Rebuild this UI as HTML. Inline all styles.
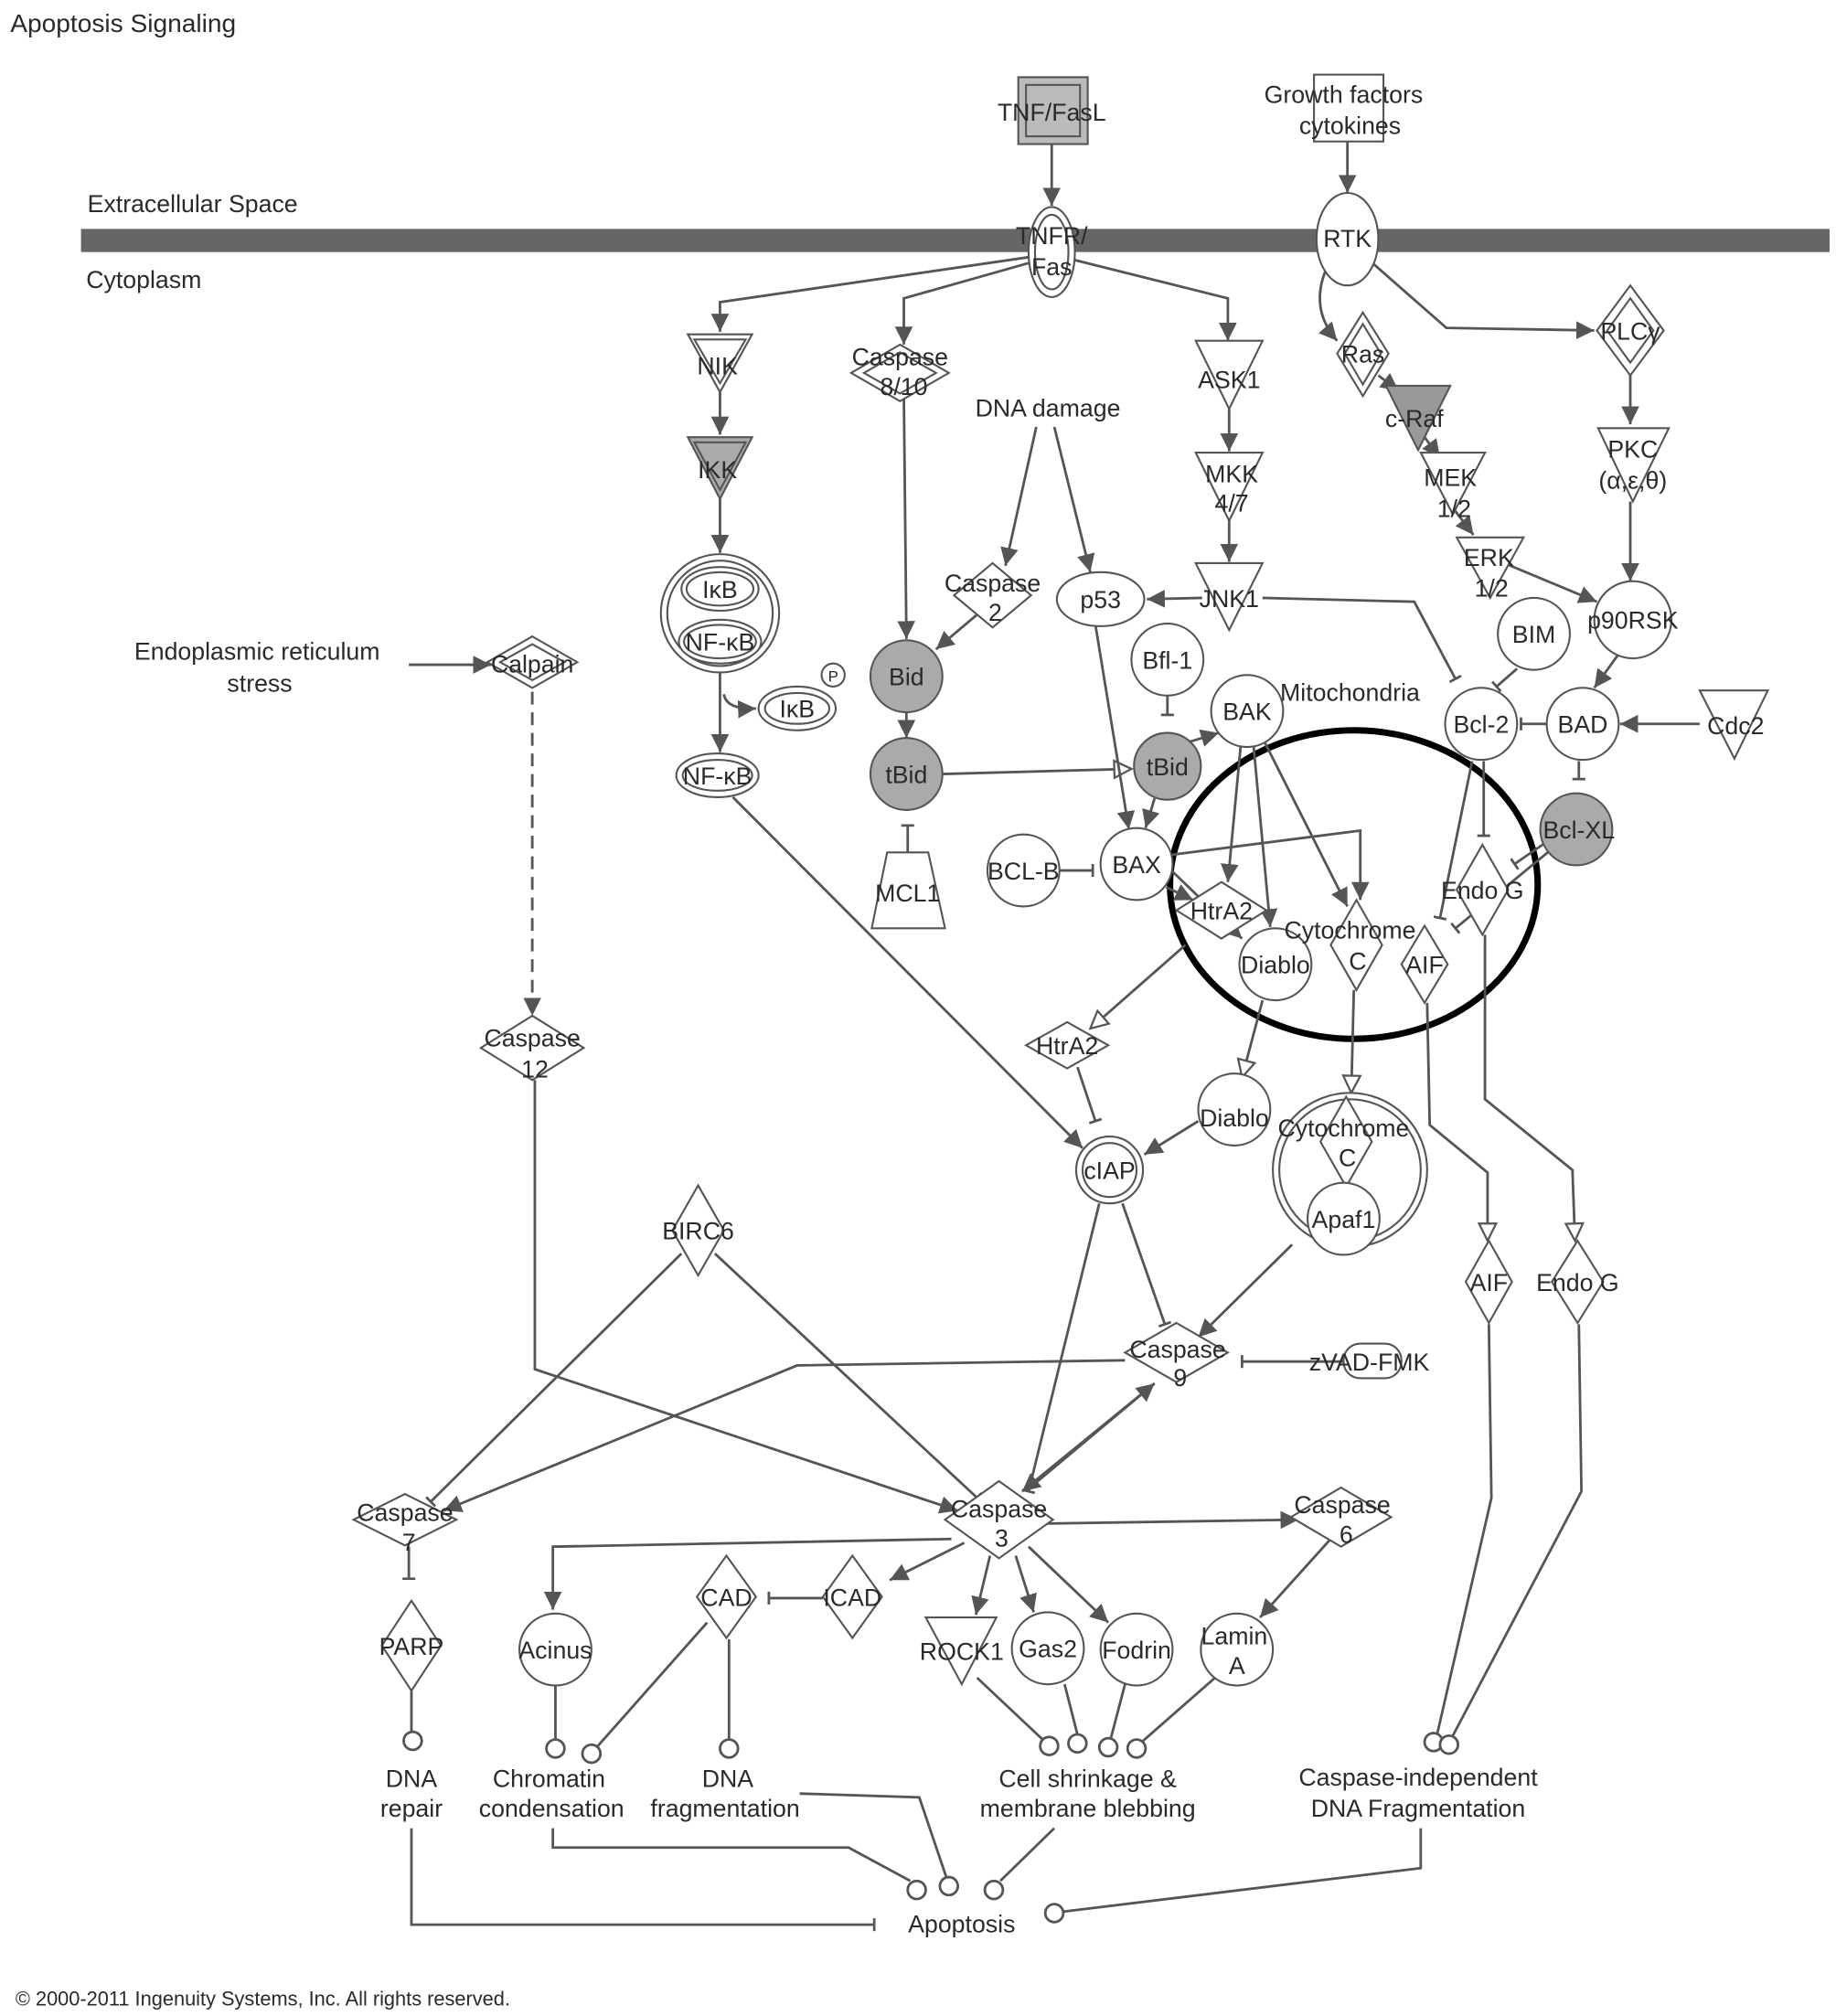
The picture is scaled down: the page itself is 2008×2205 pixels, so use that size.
<!DOCTYPE html>
<html><head><meta charset="utf-8"><style>
html,body{margin:0;padding:0;background:#fff;}
svg{display:block;}
text{font-family:"Liberation Sans",Arial,sans-serif;fill:#2a2a2a;}
</style></head><body>
<svg width="2008" height="2205" viewBox="0 0 1428 1568" xmlns="http://www.w3.org/2000/svg">
<defs>
<marker id="a" viewBox="0 0 10 10" refX="10" refY="5" markerWidth="14" markerHeight="14" markerUnits="userSpaceOnUse" orient="auto"><path d="M0,0 L10,5 L0,10 z" fill="#555"/></marker>
<marker id="o" viewBox="0 0 12 12" refX="11" refY="6" markerWidth="16" markerHeight="16" markerUnits="userSpaceOnUse" orient="auto"><path d="M1,1 L11,6 L1,11 z" fill="#fff" stroke="#555" stroke-width="1.2"/></marker>
<marker id="t" viewBox="0 0 4 10" refX="3" refY="5" markerWidth="4" markerHeight="16" markerUnits="userSpaceOnUse" orient="auto"><path d="M3,0 L3,10" stroke="#555" stroke-width="2"/></marker>
</defs>
<rect width="1428" height="1568" fill="#fff"/>
<text x="8" y="25" font-size="20">Apoptosis Signaling</text>
<rect x="63" y="178" width="1360" height="18" fill="#666"/>
<text x="68" y="165" font-size="19">Extracellular Space</text>
<text x="67" y="224" font-size="19">Cytoplasm</text>
<text x="12" y="1560" font-size="15.5">© 2000-2011 Ingenuity Systems, Inc. All rights reserved.</text>

<ellipse cx="1053" cy="688" rx="143" ry="120" fill="none" stroke="#000" stroke-width="5"/>
<text x="1050" y="545" font-size="19" text-anchor="middle">Mitochondria</text>

<g fill="none" stroke="#555" stroke-width="2">
<path d="M818,112 L818,160" marker-end="url(#a)"/>
<path d="M1048,110 L1048,150" marker-end="url(#a)"/>
<path d="M800,200 L560,235 L560,258" marker-end="url(#a)"/>
<path d="M802,204 L703,232 L703,268" marker-end="url(#a)"/>
<path d="M835,202 L955,232 L955,265" marker-end="url(#a)"/>
<path d="M956,318 L956,351" marker-end="url(#a)"/>
<path d="M956,405 L956,437" marker-end="url(#a)"/>
<path d="M560,305 L560,338" marker-end="url(#a)"/>
<path d="M560,388 L560,430" marker-end="url(#a)"/>
<path d="M560,523 L560,585" marker-end="url(#a)"/>
<path d="M563,540 Q565,552 588,551" marker-end="url(#a)"/>
<path d="M570,620 L842,893" marker-end="url(#a)"/>
<path d="M703,308 L705,497" marker-end="url(#a)"/>
<path d="M806,332 L782,440" marker-end="url(#a)"/>
<path d="M820,332 L848,445" marker-end="url(#a)"/>
<path d="M760,478 L728,505" marker-end="url(#a)"/>
<path d="M705,554 L705,574" marker-end="url(#a)"/>
<path d="M733,602 L880,598" marker-end="url(#o)"/>
<path d="M852,486 L878,645" marker-end="url(#a)"/>
<path d="M935,465 L892,466" marker-end="url(#a)"/>
<path d="M1032,208 Q1018,240 1040,265" marker-end="url(#a)"/>
<path d="M1068,205 L1125,255 L1240,257" marker-end="url(#a)"/>
<path d="M1072,292 L1088,304" marker-end="url(#a)"/>
<path d="M1108,340 L1120,356" marker-end="url(#a)"/>
<path d="M1130,395 L1146,416" marker-end="url(#a)"/>
<path d="M1170,438 L1242,468" marker-end="url(#a)"/>
<path d="M1268,292 L1268,330" marker-end="url(#a)"/>
<path d="M1268,390 L1268,452" marker-end="url(#a)"/>
<path d="M1258,510 L1240,535" marker-end="url(#a)"/>
<path d="M1322,563 L1260,563" marker-end="url(#a)"/>
<path d="M1228,592 L1228,606" marker-end="url(#t)"/>
<path d="M1180,520 L1164,534" marker-end="url(#t)"/>
<path d="M982,465 L1100,468 L1132,528" marker-end="url(#t)"/>
<path d="M1203,563 L1183,563" marker-end="url(#t)"/>
<path d="M908,541 L908,556" marker-end="url(#t)"/>
<path d="M925,577 L948,570" marker-end="url(#a)"/>
<path d="M898,621 L891,644" marker-end="url(#a)"/>
<path d="M824,677 L850,677" marker-end="url(#t)"/>
<path d="M706,663 L706,642" marker-end="url(#t)"/>
<path d="M965,580 L955,686" marker-end="url(#a)"/>
<path d="M975,580 L988,721" marker-end="url(#a)"/>
<path d="M984,578 L1048,705" marker-end="url(#a)"/>
<path d="M907,690 L928,700" marker-end="url(#a)"/>
<path d="M910,676 L966,730" marker-end="url(#a)"/>
<path d="M910,665 L1058,646 L1058,700" marker-end="url(#a)"/>
<path d="M1145,592 L1120,714" marker-end="url(#t)"/>
<path d="M1154,592 L1154,650" marker-end="url(#t)"/>
<path d="M1205,662 L1132,722" marker-end="url(#t)"/>
<path d="M1207,652 L1178,672" marker-end="url(#t)"/>
<path d="M922,735 L848,800" marker-end="url(#o)"/>
<path d="M982,778 L966,838" marker-end="url(#o)"/>
<path d="M1053,770 L1051,850" marker-end="url(#o)"/>
<path d="M1110,780 L1112,875 L1157,912 L1157,965" marker-end="url(#o)"/>
<path d="M1155,727 L1155,855 L1223,910 L1225,965" marker-end="url(#o)"/>
<path d="M838,830 L852,872" marker-end="url(#t)"/>
<path d="M932,872 L890,898" marker-end="url(#a)"/>
<path d="M855,936 L800,1160" marker-end="url(#t)"/>
<path d="M873,936 L906,1030" marker-end="url(#t)"/>
<path d="M1005,968 L932,1040" marker-end="url(#a)"/>
<path d="M1045,1059 L966,1059" marker-end="url(#t)"/>
<path d="M800,1158 L898,1076" marker-end="url(#a)"/>
<path d="M898,1076 L795,1160" marker-end="url(#a)"/>
<path d="M875,1058 L620,1062 L345,1175" marker-end="url(#a)"/>
<path d="M416,840 L416,1065 L745,1175" marker-end="url(#a)"/>
<path d="M414,538 L414,790" stroke-dasharray="10,6" marker-end="url(#a)"/>
<path d="M318,517 L382,517" marker-end="url(#a)"/>
<path d="M530,975 L335,1168" marker-end="url(#t)"/>
<path d="M556,975 L760,1165" marker-end="url(#t)"/>
<path d="M815,1185 L1010,1182" marker-end="url(#a)"/>
<path d="M1035,1197 L980,1258" marker-end="url(#a)"/>
<path d="M740,1197 L430,1203 L430,1252" marker-end="url(#a)"/>
<path d="M750,1200 L692,1229" marker-end="url(#a)"/>
<path d="M640,1243 L598,1243" marker-end="url(#t)"/>
<path d="M770,1210 L759,1256" marker-end="url(#a)"/>
<path d="M790,1210 L804,1254" marker-end="url(#a)"/>
<path d="M800,1203 L862,1262" marker-end="url(#a)"/>
<path d="M318,1203 L318,1228" marker-end="url(#t)"/>
<path d="M320,1315 L320,1347"/>
<path d="M432,1311 L432,1353"/>
<path d="M550,1262 L465,1358"/>
<path d="M567,1275 L567,1353"/>
<path d="M760,1305 L811,1353"/>
<path d="M828,1310 L838,1349"/>
<path d="M875,1310 L864,1352"/>
<path d="M945,1305 L889,1354"/>
<path d="M1158,1030 L1160,1165 L1118,1348"/>
<path d="M1228,1030 L1230,1160 L1130,1350"/>
<path d="M320,1422 L320,1497 L680,1497" marker-end="url(#t)"/>
<path d="M430,1422 L430,1437 L660,1437 L708,1463"/>
<path d="M622,1395 L715,1398 L736,1460"/>
<path d="M820,1422 L778,1463"/>
<path d="M1105,1422 L1105,1453 L826,1487"/>
</g>

<g fill="#fff" stroke="#555" stroke-width="2">
<circle cx="321" cy="1354" r="7"/><circle cx="432" cy="1360" r="7"/><circle cx="460" cy="1364" r="7"/>
<circle cx="567" cy="1360" r="7"/><circle cx="816" cy="1358" r="7"/><circle cx="838" cy="1356" r="7"/>
<circle cx="862" cy="1359" r="7"/><circle cx="884" cy="1360" r="7"/><circle cx="1115" cy="1355" r="7"/>
<circle cx="1127" cy="1357" r="7"/><circle cx="713" cy="1470" r="7"/><circle cx="738" cy="1467" r="7"/>
<circle cx="773" cy="1470" r="7"/><circle cx="820" cy="1488" r="7"/>
</g>

<g stroke="#555" stroke-width="1.5" fill="#fff">
<rect x="792" y="60" width="54" height="52" fill="#bbb"/><rect x="798" y="66" width="42" height="40" fill="#bbb"/>
<rect x="1022" y="58" width="54" height="52"/>
<ellipse cx="818" cy="196" rx="18" ry="35"/><ellipse cx="818" cy="196" rx="13" ry="29"/>
<ellipse cx="1048" cy="186" rx="24" ry="36"/>
<polygon points="535,260 585,260 560,305"/><polygon points="540,264 580,264 560,298"/>
<polygon points="535,340 585,340 560,388" fill="#aaa"/><polygon points="540,344 580,344 560,381" fill="#aaa"/>
<circle cx="560" cy="477" r="46"/><circle cx="560" cy="477" r="41"/>
<ellipse cx="560" cy="458" rx="30" ry="17"/><ellipse cx="560" cy="458" rx="26" ry="13"/>
<ellipse cx="560" cy="499" rx="32" ry="17"/><ellipse cx="560" cy="499" rx="28" ry="13"/>
<ellipse cx="620" cy="551" rx="30" ry="17"/><ellipse cx="620" cy="551" rx="25" ry="12"/>
<circle cx="648" cy="525" r="9"/>
<ellipse cx="558" cy="603" rx="32" ry="17"/><ellipse cx="558" cy="603" rx="27" ry="12"/>
<polygon points="700,268 738,290 700,312 662,290"/><polygon points="700,274 728,290 700,306 672,290"/>
<polygon points="772,438 802,463 772,488 742,463"/>
<ellipse cx="856" cy="466" rx="34" ry="21"/>
<polygon points="930,265 982,265 956,318"/>
<polygon points="930,352 982,352 956,405"/>
<polygon points="930,438 982,438 956,490"/>
<polygon points="1060,243 1080,275 1060,308 1040,275"/><polygon points="1060,252 1074,275 1060,299 1046,275"/>
<polygon points="1078,300 1128,300 1103,350" fill="#999"/>
<polygon points="1105,352 1155,352 1130,400"/>
<polygon points="1133,418 1185,418 1159,465"/>
<polygon points="1268,222 1294,257 1268,292 1242,257"/><polygon points="1268,232 1286,257 1268,282 1250,257"/>
<polygon points="1243,333 1298,333 1270,390"/>
<circle cx="1270" cy="482" r="30"/>
<circle cx="1193" cy="493" r="28"/>
<circle cx="1152" cy="563" r="28"/>
<circle cx="1231" cy="563" r="28"/>
<polygon points="1322,537 1375,537 1349,590"/>
<circle cx="1226" cy="645" r="28" fill="#aaa"/>
<circle cx="705" cy="526" r="28" fill="#aaa"/>
<circle cx="705" cy="602" r="28" fill="#aaa"/>
<circle cx="908" cy="513" r="28"/>
<circle cx="970" cy="553" r="28"/>
<circle cx="908" cy="596" r="26" fill="#aaa"/>
<circle cx="884" cy="672" r="28"/>
<circle cx="796" cy="677" r="28"/>
<polygon points="690,663 722,663 735,722 678,722"/>
<polygon points="950,686 985,708 950,730 915,708"/>
<circle cx="992" cy="750" r="28"/>
<polygon points="1055,700 1075,735 1055,770 1035,735"/>
<polygon points="1108,720 1126,750 1108,780 1090,750"/>
<polygon points="1153,657 1173,692 1153,727 1133,692"/>
<polygon points="830,795 862,813 830,831 798,813"/>
<circle cx="960" cy="863" r="28"/>
<circle cx="1050" cy="910" r="60"/><circle cx="1050" cy="910" r="55"/>
<polygon points="1047,853 1067,888 1047,923 1027,888"/>
<circle cx="1045" cy="948" r="28"/>
<circle cx="863" cy="910" r="26"/><circle cx="863" cy="910" r="21"/>
<polygon points="414,495 449,515 414,535 379,515"/><polygon points="414,501 439,515 414,529 389,515"/>
<polygon points="414,790 454,815 414,840 374,815"/>
<polygon points="543,922 563,957 543,992 523,957"/>
<polygon points="915,1029 955,1052 915,1075 875,1052"/>
<rect x="1045" y="1045" width="45" height="27" rx="13"/>
<polygon points="777,1152 819,1182 777,1212 735,1182"/>
<polygon points="315,1162 355,1182 315,1202 275,1182"/>
<polygon points="1043,1157 1082,1180 1043,1203 1004,1180"/>
<polygon points="320,1245 343,1280 320,1315 297,1280"/>
<circle cx="432" cy="1283" r="28"/>
<polygon points="565,1210 588,1242 565,1274 542,1242"/>
<polygon points="663,1210 686,1242 663,1274 640,1242"/>
<polygon points="720,1258 775,1258 748,1310"/>
<circle cx="815" cy="1282" r="28"/>
<circle cx="884" cy="1283" r="28"/>
<circle cx="962" cy="1283" r="28"/>
<polygon points="1158,965 1176,997 1158,1029 1140,997"/>
<polygon points="1227,965 1247,997 1227,1029 1207,997"/>
</g>

<g font-size="19" text-anchor="middle">
<text x="818" y="94">TNF/FasL</text>
<text x="1045" y="80">Growth factors</text><text x="1050" y="104">cytokines</text>
<text x="818" y="190">TNFR/</text><text x="818" y="214">Fas</text>
<text x="1048" y="192">RTK</text>
<text x="558" y="291">NIK</text>
<text x="558" y="372">IKK</text>
<text x="560" y="465">IκB</text>
<text x="560" y="506">NF-κB</text>
<text x="620" y="558">IκB</text>
<text x="648" y="530" font-size="12">P</text>
<text x="558" y="610">NF-κB</text>
<text x="700" y="284">Caspase</text><text x="703" y="307">8/10</text>
<text x="815" y="324">DNA damage</text>
<text x="772" y="460">Caspase</text><text x="774" y="483">2</text>
<text x="856" y="473">p53</text>
<text x="956" y="302">ASK1</text>
<text x="958" y="375">MKK</text><text x="958" y="398">4/7</text>
<text x="956" y="472">JNK1</text>
<text x="1060" y="282">Ras</text>
<text x="1100" y="332">c-Raf</text>
<text x="1128" y="378">MEK</text><text x="1131" y="402">1/2</text>
<text x="1158" y="440">ERK</text><text x="1160" y="464">1/2</text>
<text x="1268" y="264">PLCγ</text>
<text x="1270" y="356">PKC</text><text x="1270" y="380">(α,ε,θ)</text>
<text x="1270" y="489">p90RSK</text>
<text x="1193" y="500">BIM</text>
<text x="1152" y="570">Bcl-2</text>
<text x="1231" y="570">BAD</text>
<text x="1350" y="571">Cdc2</text>
<text x="1228" y="652">Bcl-XL</text>
<text x="705" y="533">Bid</text>
<text x="705" y="609">tBid</text>
<text x="908" y="520">Bfl-1</text>
<text x="970" y="560">BAK</text>
<text x="908" y="603">tBid</text>
<text x="884" y="679">BAX</text>
<text x="796" y="684">BCL-B</text>
<text x="706" y="701">MCL1</text>
<text x="950" y="715">HtrA2</text>
<text x="992" y="757">Diablo</text>
<text x="1050" y="730">Cytochrome</text><text x="1056" y="754">C</text>
<text x="1108" y="757">AIF</text>
<text x="1153" y="699">Endo G</text>
<text x="830" y="820">HtrA2</text>
<text x="960" y="876">Diablo</text>
<text x="1045" y="884">Cytochrome</text><text x="1048" y="907">C</text>
<text x="1045" y="955">Apaf1</text>
<text x="863" y="917">cIAP</text>
<text x="200" y="513">Endoplasmic reticulum</text><text x="202" y="538">stress</text>
<text x="414" y="523">Calpain</text>
<text x="414" y="814">Caspase</text><text x="416" y="838">12</text>
<text x="543" y="964">BIRC6</text>
<text x="916" y="1056">Caspase</text><text x="918" y="1078">9</text>
<text x="1065" y="1066">zVAD-FMK</text>
<text x="777" y="1180">Caspase</text><text x="779" y="1203">3</text>
<text x="315" y="1183">Caspase</text><text x="318" y="1206">7</text>
<text x="1044" y="1177">Caspase</text><text x="1047" y="1200">6</text>
<text x="320" y="1287">PARP</text>
<text x="432" y="1290">Acinus</text>
<text x="565" y="1249">CAD</text>
<text x="663" y="1249">ICAD</text>
<text x="748" y="1291">ROCK1</text>
<text x="815" y="1289">Gas2</text>
<text x="884" y="1290">Fodrin</text>
<text x="960" y="1279">Lamin</text><text x="962" y="1302">A</text>
<text x="1158" y="1004">AIF</text>
<text x="1227" y="1004">Endo G</text>
<text x="320" y="1390">DNA</text><text x="320" y="1413">repair</text>
<text x="427" y="1390">Chromatin</text><text x="429" y="1413">condensation</text>
<text x="566" y="1390">DNA</text><text x="564" y="1413">fragmentation</text>
<text x="846" y="1390">Cell shrinkage &amp;</text><text x="846" y="1413">membrane blebbing</text>
<text x="1103" y="1389">Caspase-independent</text><text x="1103" y="1413">DNA Fragmentation</text>
<text x="748" y="1503">Apoptosis</text>
</g>
</svg>
</body></html>
